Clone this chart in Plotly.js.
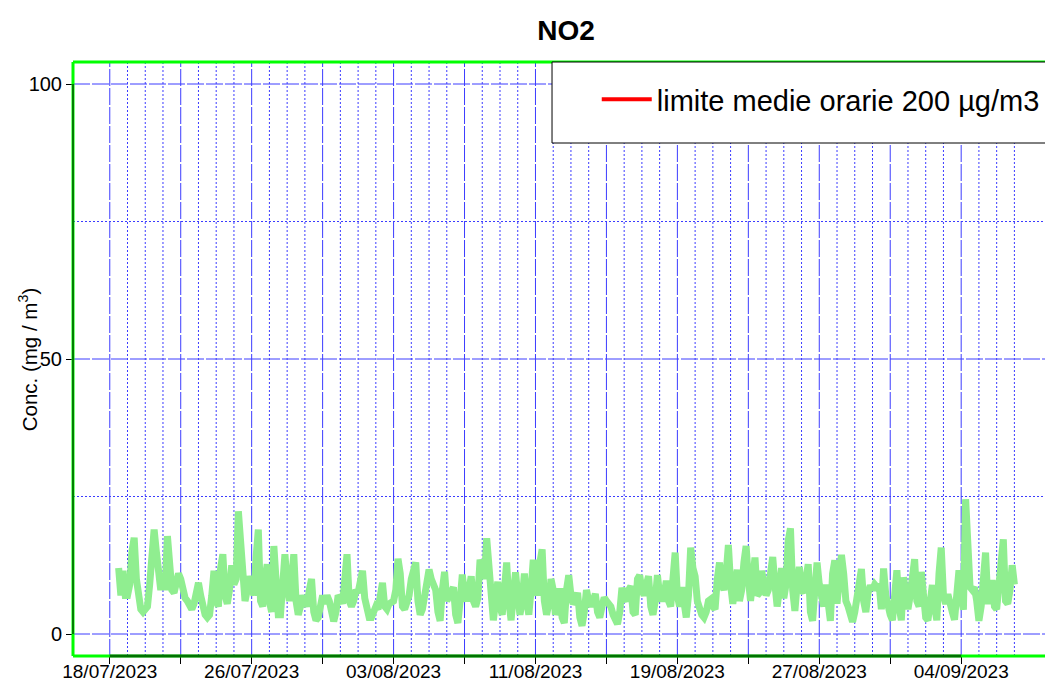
<!DOCTYPE html>
<html>
<head>
<meta charset="utf-8">
<script src="https://cdn.plot.ly/plotly-3.0.1.min.js"></script>
<style>
html,body{margin:0;padding:0;overflow:hidden;background:#ffffff;}
#chart{width:1045px;height:684px;}
</style>
</head>
<body>
<div id="chart"></div>
<script>
// ---------------- data ----------------
const chartTitle = 'NO2';
const yAxisTitle = 'Conc. (mg / m<sup>3</sup>)';
const legendLabel = 'limite medie orarie 200 µg/m3';
const limitValue = 200;
const seriesStartUTC = [2023, 6, 18, 12];   // 18/07/2023 12:00
const stepHours = 3;

// NO2 concentration, one value every 3 hours (one line per day)
const no2 = [
  12, 7, 11.5, 7,
  7, 9, 15, 17.5, 10, 6, 4.5, 4,
  4.5, 5, 9, 13, 19, 15, 10, 8,
  11, 8, 17.8, 12, 8, 7.5, 10, 11,
  10, 8, 6.5, 6, 5, 4.5, 5.5, 7.5,
  9.3, 7, 5, 3.5, 3, 3.5, 7, 11.5,
  6, 5, 12, 14.5, 7, 5.5, 8, 12.5,
  9, 10, 22.3, 17, 12, 6, 8, 10.5,
  9, 7, 14, 19, 6, 5, 10, 12.7,
  6, 4, 16, 9, 3.5, 3.5, 8, 14.5,
  9, 6, 10, 14.5, 6, 3.5, 5, 7,
  6, 5, 8, 10, 4, 2.5, 3, 6,
  7, 5.5, 7, 6, 3.5, 2.3, 4, 7,
  6.5, 5.5, 10, 14.5, 6, 5, 6, 8,
  7.5, 9, 11.5, 6.5, 4.5, 3, 3, 4.5,
  5, 4.5, 8, 9.3, 5, 4.5, 5.5, 6,
  6, 8, 13.7, 11, 5, 4.5, 5.5, 7,
  10, 12, 13, 6, 3.5, 4.5, 7, 9,
  11.7, 10, 9, 8, 4, 2.4, 8, 11.3,
  6, 7, 8, 8.5, 3.5, 2, 6, 10.8,
  7, 6, 8, 10.5, 6, 5, 6.5, 13.5,
  12, 10, 17.4, 12, 4, 2.5, 6, 9.5,
  5, 3.5, 8, 13, 6, 2.5, 7, 11.2,
  7, 3.5, 6, 11, 6, 3.5, 8, 13.5,
  9, 7, 13, 15.4, 6, 3.5, 5.5, 10,
  8, 3.5, 5, 8.3, 3, 2, 8, 10.7,
  7, 5.5, 6, 7.5, 3, 1.5, 4, 8,
  6, 5, 6, 7.3, 4, 3, 5, 6.6,
  6, 5.5, 5, 3.5, 2.5, 1.8, 4, 8.4,
  6.5, 6, 8, 8.7, 4, 3.5, 10, 10.7,
  8, 7, 9, 10.5, 5, 3.5, 6, 10.7,
  7, 6, 7, 9.7, 6, 5, 10, 14.8,
  7, 5, 8.5, 4, 3, 7, 15.7, 12,
  10.5, 6, 4, 3.5, 3, 4, 6, 6.3,
  5, 4.5, 10, 13, 9, 8, 11, 16.2,
  9, 5.5, 9, 11.7, 6, 8, 13, 16,
  10, 6, 10, 13.9, 7, 7.5, 11.5, 9,
  7, 8, 11, 14, 9, 5, 8, 12,
  6.5, 9, 17, 19.2, 8, 4.2, 9, 12.2,
  8, 7.5, 10, 12.7, 4, 2.4, 8, 13,
  9, 6, 5, 9, 4, 2.4, 11, 13.4,
  5.5, 10, 14.4, 11, 6, 5, 3, 2.2,
  4, 6.5, 10, 11.8, 6, 4, 7.5, 8.8,
  8, 9, 8.5, 9, 4.5, 11.9, 7, 4.5,
  3.5, 2.5, 8, 11.6, 5, 2.5, 10.3, 6,
  4.5, 7, 11, 13.6, 6, 5, 11.3, 8,
  3, 2.5, 5, 8.9, 5, 2.5, 11, 15.7,
  7, 5.5, 7.2, 6, 4, 2.6, 8, 11.6,
  7, 4.4, 24.5, 13, 8.5, 8, 8.5, 6,
  2.4, 5, 11, 14.8, 6, 6, 9.8, 5,
  4.5, 8, 13, 17.2, 6, 5.5, 8, 12.5,
  9
];

// x-axis: labelled ticks every 8 days, unlabelled ticks in between (every 4 days)
const labelTickDates = ['2023-07-18','2023-07-26','2023-08-03','2023-08-11','2023-08-19','2023-08-27','2023-09-04'];
const labelTickText = ['18/07/2023','26/07/2023','03/08/2023','11/08/2023','19/08/2023','27/08/2023','04/09/2023'];
const midTickDates = ['2023-07-22','2023-07-30','2023-08-07','2023-08-15','2023-08-23','2023-08-31'];
const gridFirstDay = '2023-07-18';
const gridLastDay = '2023-09-07';
const yTickVals = [0, 50, 100];
const yTickText = ['0', '50', '100'];
const yMinorVals = [25, 75];

// ---------------- helpers ----------------
const DAY = 86400000;
function fmt(ms) {
  const d = new Date(ms);
  const p = n => String(n).padStart(2, '0');
  return d.getUTCFullYear() + '-' + p(d.getUTCMonth() + 1) + '-' + p(d.getUTCDate()) + ' ' +
         p(d.getUTCHours()) + ':' + p(d.getUTCMinutes()) + ':' + p(d.getUTCSeconds());
}
function parseDay(s) { const a = s.split('-').map(Number); return Date.UTC(a[0], a[1] - 1, a[2]); }

const t0 = Date.UTC.apply(null, seriesStartUTC);
const xTimes = no2.map((_, i) => fmt(t0 + i * stepHours * 3600000));

const day0 = parseDay(labelTickDates[0]);
const xRange = [fmt(day0 - 2.073 * DAY), fmt(day0 + 52.387 * DAY)];

const majorDates = labelTickDates.concat(midTickDates);
const majorSet = new Set(majorDates);
const minorDates = [];
for (let t = parseDay(gridFirstDay); t <= parseDay(gridLastDay); t += DAY) {
  const s = fmt(t).slice(0, 10);
  if (!majorSet.has(s)) minorDates.push(s);
}

const FONT = 'Liberation Sans, Arial, sans-serif';
const gridBlue = '#3c3cff';
const DASH = '17px,2px';
const DOT = '2px,2px';

const traces = [
  {
    x: xTimes, y: no2, type: 'scatter', mode: 'lines',
    line: {color: '#90EE90', width: 7},
    showlegend: false, hoverinfo: 'skip'
  },
  {
    x: [xRange[0], xRange[1]], y: [limitValue, limitValue], type: 'scatter', mode: 'lines',
    xaxis: 'x2', yaxis: 'y',
    name: legendLabel, line: {color: '#FF0000', width: 4}, showlegend: true
  }
];

// grid lines as shapes (between grid layer and traces)
const gridShapes = [];
function hLine(v, dash) {
  gridShapes.push({type: 'line', xref: 'paper', yref: 'y', x0: 0, x1: 1.05, y0: v, y1: v,
    layer: 'between', line: {color: gridBlue, width: 1, dash: dash}});
}
function vLine(d, dash) {
  gridShapes.push({type: 'line', xref: 'x', yref: 'paper', x0: d, x1: d, y0: 0, y1: 1,
    layer: 'between', line: {color: gridBlue, width: 1, dash: dash}});
}
yMinorVals.forEach(v => hLine(v, DOT));
minorDates.forEach(d => vLine(d, DOT));
yTickVals.forEach(v => hLine(v, DASH));
majorDates.forEach(d => vLine(d, DASH));

const frameShapes = [
  {type: 'line', xref: 'paper', yref: 'paper', x0: 0, x1: 1.05, y0: 1, y1: 1, line: {color: '#00FF00', width: 3}},
  {type: 'line', xref: 'paper', yref: 'paper', x0: 0, x1: 0, y0: 0, y1: 1, line: {color: '#00FF00', width: 3}},
  {type: 'line', xref: 'paper', yref: 'paper', x0: 0, x1: 1.05, y0: 0, y1: 0, line: {color: '#00FF00', width: 3}},
  {type: 'line', xref: 'x', yref: 'paper', x0: labelTickDates[0], x1: labelTickDates[labelTickDates.length - 1],
   y0: 0, y1: 0, line: {color: 'rgba(0,0,0,0.55)', width: 3}},
  {type: 'line', xref: 'paper', yref: 'y', x0: 0, x1: 0, y0: yTickVals[0], y1: yTickVals[yTickVals.length - 1],
   line: {color: '#000000', width: 1}},
  {type: 'rect', xref: 'paper', yref: 'paper', x0: (555 - 73) / 972, x1: 1.05, y0: (656 - 143) / 594, y1: 1,
   fillcolor: '#ffffff', line: {color: '#000000', width: 1}, layer: 'above'}
];

const layout = {
  width: 1045, height: 684,
  margin: {l: 73, r: 0, t: 62, b: 28, pad: 0},
  paper_bgcolor: '#ffffff', plot_bgcolor: '#ffffff',
  font: {family: FONT, color: '#000000'},
  title: {text: '<b>' + chartTitle + '</b>', font: {family: FONT, size: 28, color: '#000'},
          x: 0.5416, xanchor: 'center', xref: 'container', y: 0.956, yanchor: 'middle', yref: 'container'},
  xaxis: {
    type: 'date', range: xRange, fixedrange: true,
    tickmode: 'array', tickvals: labelTickDates, ticktext: labelTickText,
    ticks: 'outside', ticklen: 7, tickcolor: '#000', tickwidth: 1, ticklabelstandoff: -9,
    tickfont: {family: FONT, size: 19, color: '#000'},
    showgrid: false, showline: false, zeroline: false
  },
  xaxis2: {
    type: 'date', range: xRange, fixedrange: true, overlaying: 'x', side: 'bottom', anchor: 'y',
    tickmode: 'array', tickvals: midTickDates, showticklabels: false,
    ticks: 'outside', ticklen: 7, tickcolor: '#000', tickwidth: 1,
    showgrid: false, showline: false, zeroline: false
  },
  yaxis: {
    range: [-4, 104], fixedrange: true,
    tickmode: 'array', tickvals: yTickVals, ticktext: yTickText,
    ticks: 'outside', ticklen: 6, tickcolor: '#000', tickwidth: 1,
    tickfont: {family: FONT, size: 20, color: '#000'},
    showgrid: false, showline: false, zeroline: false
  },
  showlegend: true,
  legend: {
    x: (600 - 73) / 972, xanchor: 'left', y: (656 - 74) / 594, yanchor: 'top',
    bgcolor: 'rgba(0,0,0,0)', borderwidth: 0, itemwidth: 50,
    font: {family: FONT, size: 29, color: '#000'}
  },
  annotations: [
    {text: yAxisTitle, xref: 'paper', yref: 'paper', x: (28 - 73) / 972, y: 0.5,
     xanchor: 'center', yanchor: 'middle', textangle: -90, showarrow: false,
     font: {family: FONT, size: 20.5, color: '#000'}}
  ],
  shapes: gridShapes.concat(frameShapes)
};

Plotly.newPlot('chart', traces, layout, {staticPlot: true, displayModeBar: false});
</script>
</body>
</html>
